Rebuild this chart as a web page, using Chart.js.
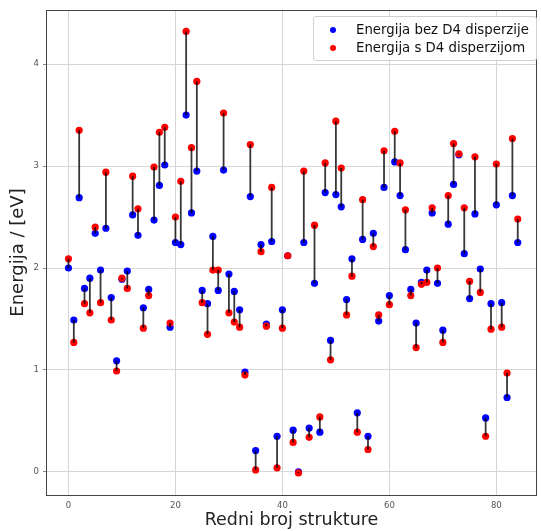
<!DOCTYPE html>
<html>
<head>
<meta charset="utf-8">
<script src="https://cdn.jsdelivr.net/npm/chart.js@4/dist/chart.umd.min.js"></script>
<style>
  html, body { margin: 0; padding: 0; background: #fff; }
  #wrap { position: relative; width: 541px; height: 531px; }
  #legend { position: absolute; left: 313px; top: 16px; width: 222px; height: 43px;
    border: 1px solid #d0d0d0; border-radius: 3px; background: rgba(255,255,255,0.85);
    font-family: "DejaVu Sans", sans-serif; font-size: 13.3px; color: #111; }
  .row { position: absolute; left: 0; height: 18px; line-height: 18px; white-space: nowrap; }
  .dot { position: absolute; left: 16px; top: 6px; width: 6px; height: 6px; border-radius: 50%; }
  .lbl { position: absolute; left: 42px; top: 0; }
</style>
</head>
<body>
<div id="wrap">
  <canvas id="c" width="541" height="531"></canvas>
  <div id="legend">
    <div class="row" style="top:4px"><span class="dot" style="background:#0000ff"></span><span class="lbl">Energija bez D4 disperzije</span></div>
    <div class="row" style="top:22px"><span class="dot" style="background:#ff0000"></span><span class="lbl">Energija s D4 disperzijom</span></div>
  </div>
</div>
<script>
const structureIndex = Array.from({length: 85}, (_, i) => i);
const energyNoD4 = [
  2.00, 1.49, 2.69, 1.80, 1.90, 2.34, 1.98, 2.39, 1.71, 1.09,
  1.89, 1.97, 2.52, 2.32, 1.61, 1.79, 2.47, 2.81, 3.01, 1.42,
  2.25, 2.23, 3.50, 2.54, 2.95, 1.78, 1.65, 2.31, 1.78, 2.96,
  1.94, 1.77, 1.59, 0.98, 2.70, 0.21, 2.23, 1.45, 2.26, 0.35,
  1.59, 2.12, 0.41, 0.00, 2.25, 0.43, 1.85, 0.39, 2.74, 1.29,
  2.72, 2.60, 1.69, 2.09, 0.58, 2.28, 0.35, 2.34, 1.48, 2.79,
  1.73, 3.04, 2.71, 2.18, 1.79, 1.46, 1.86, 1.98, 2.54, 1.85,
  1.39, 2.43, 2.82, 3.11, 2.14, 1.70, 2.53, 1.99, 0.53, 1.65,
  2.62, 1.66, 0.73, 2.71, 2.25
];
const energyD4 = [
  2.09, 1.27, 3.35, 1.65, 1.56, 2.40, 1.66, 2.94, 1.49, 0.99,
  1.90, 1.80, 2.90, 2.58, 1.41, 1.73, 2.99, 3.33, 3.38, 1.46,
  2.50, 2.85, 4.32, 3.18, 3.83, 1.66, 1.35, 1.98, 1.98, 3.52,
  1.56, 1.47, 1.42, 0.95, 3.21, 0.02, 2.16, 1.43, 2.79, 0.04,
  1.41, 2.12, 0.29, -0.01, 2.95, 0.34, 2.42, 0.54, 3.03, 1.10,
  3.44, 2.98, 1.54, 1.92, 0.39, 2.67, 0.22, 2.21, 1.54, 3.15,
  1.64, 3.34, 3.03, 2.57, 1.73, 1.22, 1.84, 1.86, 2.59, 2.00,
  1.27, 2.71, 3.22, 3.12, 2.59, 1.87, 3.09, 1.76, 0.35, 1.40,
  3.02, 1.42, 0.97, 3.27, 2.48
];
const xTickValues = [0, 20, 40, 60, 80];
const yTickValues = [0, 1, 2, 3, 4];
const xAxisTitle = 'Redni broj strukture';
const yAxisTitle = 'Energija / [eV]';
const seriesNames = ['Energija bez D4 disperzije', 'Energija s D4 disperzijom'];

const bluePts = structureIndex.map((x, i) => ({x, y: energyNoD4[i]}));
const redPts = structureIndex.map((x, i) => ({x, y: energyD4[i]}));
const connectors = [];
structureIndex.forEach((x, i) => {
  connectors.push({x, y: energyNoD4[i]}, {x, y: energyD4[i]}, {x, y: null});
});

const frame = {
  id: 'frame',
  afterDraw(chart) {
    const {ctx, chartArea: a} = chart;
    ctx.save();
    ctx.strokeStyle = '#444';
    ctx.lineWidth = 1;
    ctx.strokeRect(Math.round(a.left) + 0.5, Math.round(a.top) + 0.5,
      Math.round(a.right - a.left) - 1, Math.round(a.bottom - a.top));
    ctx.restore();
  }
};

const font = '"DejaVu Sans", sans-serif';
new Chart(document.getElementById('c'), {
  type: 'scatter',
  data: {
    datasets: [
      { type: 'line', label: 'conn', data: connectors, borderColor: 'rgba(0,0,0,0.78)',
        borderWidth: 1.8, pointRadius: 0, spanGaps: false, order: 0, fill: false },
      { label: seriesNames[1], data: redPts, backgroundColor: '#ff0000', borderWidth: 0,
        pointRadius: 3.6, order: 1 },
      { label: seriesNames[0], data: bluePts, backgroundColor: '#0000ff', borderWidth: 0,
        pointRadius: 3.6, order: 2 }
    ]
  },
  options: {
    responsive: false,
    animation: false,
    layout: { padding: { top: 10, right: 1, left: 0, bottom: 0 } },
    plugins: { legend: { display: false }, tooltip: { enabled: false } },
    scales: {
      x: {
        type: 'linear', min: -4.2, max: 87.6,
        afterBuildTicks: s => { s.ticks = xTickValues.map(v => ({value: v})); },
        afterFit: s => { s.height = 36; },
        grid: { color: '#d6d6d6', lineWidth: 1, drawTicks: false },
        border: { display: false },
        ticks: { font: { family: font, size: 8.5 }, color: '#555', padding: 6, maxRotation: 0 },
        title: { display: true, text: xAxisTitle, font: { family: font, size: 17.5 }, color: '#222',
          padding: { top: 0, bottom: 0 } }
      },
      y: {
        type: 'linear', min: -0.226, max: 4.53,
        afterBuildTicks: s => { s.ticks = yTickValues.map(v => ({value: v})); },
        afterFit: s => { s.width = 46; },
        grid: { color: '#d6d6d6', lineWidth: 1, drawTicks: true, tickLength: 3, tickColor: '#888' },
        border: { display: false },
        ticks: { font: { family: font, size: 8.5 }, color: '#555', padding: 4 },
        title: { display: true, text: yAxisTitle, font: { family: font, size: 18 }, color: '#222',
          padding: { top: 8, bottom: 0 } }
      }
    }
  },
  plugins: [frame]
});
</script>
</body>
</html>
